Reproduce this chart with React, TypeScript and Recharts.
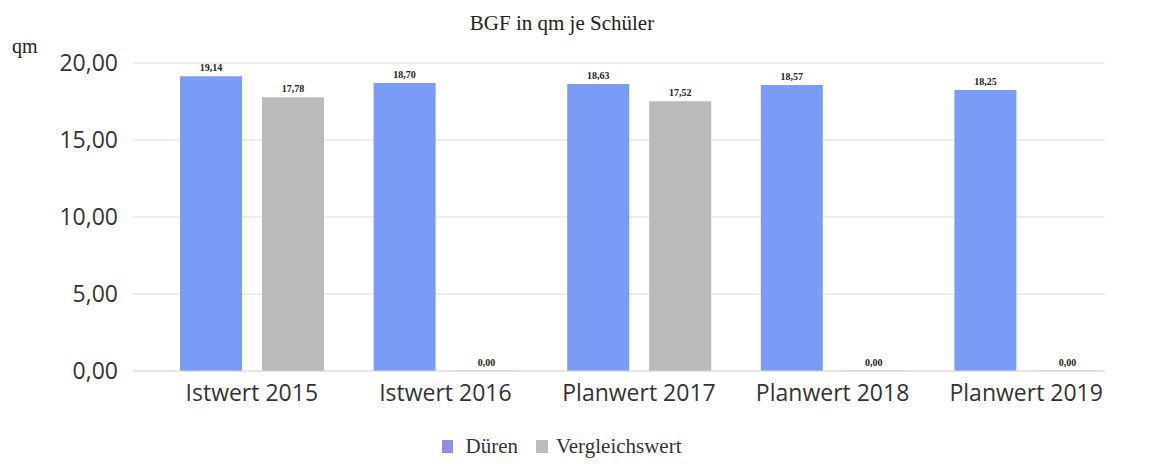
import { BarChart, Bar, XAxis, YAxis, CartesianGrid, LabelList } from "recharts";

const categories = ["Istwert 2015", "Istwert 2016", "Planwert 2017", "Planwert 2018", "Planwert 2019"];
const dueren = [19.14, 18.7, 18.63, 18.57, 18.25];
const vergleich = [17.78, 0, 17.52, 0, 0];
const yTicks = [0, 5, 10, 15, 20];

const data = categories.map((name, i) => ({ name, dueren: dueren[i], vergleich: vergleich[i] }));

const fmt = (v: unknown) => (typeof v === "number" ? v.toFixed(2).replace(".", ",") : String(v));

const BLUE = "#7b9cf6";
const GREY = "#bababa";
const serif = "Liberation Serif";

const labelStyle = { fontFamily: serif, fontSize: 10, fontWeight: "bold" as const, fill: "#222" };

export default function App() {
  return (
    <div style={{ position: "absolute", left: 0, top: 0, width: 1155, height: 464, background: "#fff" }}>
      <div
        style={{
          position: "absolute",
          top: 11,
          left: 0,
          width: 1124,
          textAlign: "center",
          fontFamily: serif,
          fontSize: 21,
          color: "#222",
        }}
      >
        BGF in qm je Schüler
      </div>
      <div style={{ position: "absolute", top: 35, left: 12, fontFamily: serif, fontSize: 20, color: "#222" }}>qm</div>
      <BarChart
        width={1155}
        height={464}
        data={data}
        margin={{ top: 63, right: 50, bottom: 58, left: 13 }}
        barSize={62}
        barGap={20}
      >
        <CartesianGrid vertical={false} stroke="#dcdcdc" />
        <XAxis
          dataKey="name"
          height={35}
          axisLine={{ stroke: "#dcdcdc" }}
          tickLine={false}
          padding={{ left: 22, right: -18 }}
          tick={{ fontFamily: "Open Sans", fontSize: 23, fill: "#333" }}
          tickMargin={8}
        />
        <YAxis
          domain={[0, 20]}
          ticks={yTicks}
          width={120}
          axisLine={false}
          tickLine={false}
          tickFormatter={fmt}
          tick={{ fontFamily: "Open Sans", fontSize: 23, fill: "#333" }}
          tickMargin={9}
        />
        <Bar dataKey="dueren" name="Düren" fill={BLUE} minPointSize={0.5} isAnimationActive={false}>
          <LabelList dataKey="dueren" position="top" offset={5} formatter={fmt} style={labelStyle} />
        </Bar>
        <Bar dataKey="vergleich" name="Vergleichswert" fill={GREY} minPointSize={0.5} isAnimationActive={false}>
          <LabelList dataKey="vergleich" position="top" offset={5} formatter={fmt} style={labelStyle} />
        </Bar>
      </BarChart>
      <div
        style={{
          position: "absolute",
          top: 434,
          left: 0,
          width: 1124,
          display: "flex",
          justifyContent: "center",
          alignItems: "center",
          fontFamily: serif,
          fontSize: 21,
          color: "#333",
        }}
      >
        <span style={{ display: "inline-block", width: 11, height: 13, background: "#8d8fe6", marginRight: 12 }} />
        <span style={{ marginRight: 18 }}>Düren</span>
        <span style={{ display: "inline-block", width: 12, height: 13, background: "#bdbdbd", marginRight: 8 }} />
        <span>Vergleichswert</span>
      </div>
    </div>
  );
}
